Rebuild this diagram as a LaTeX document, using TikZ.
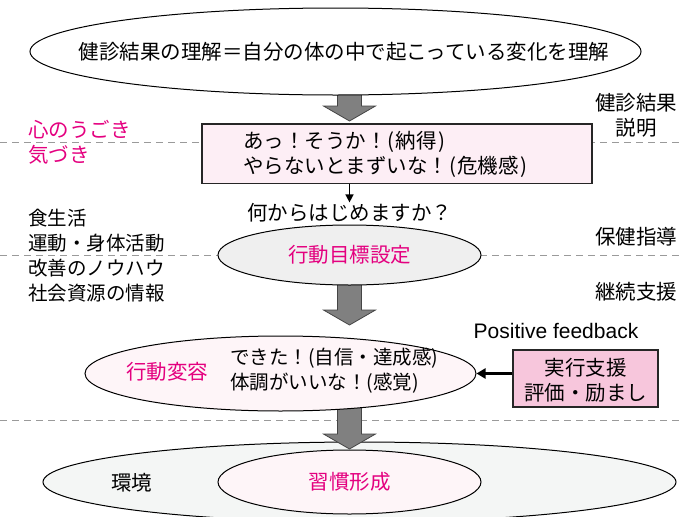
\documentclass[tikz,border=0pt]{standalone}
\usepackage{fontspec}
\setmainfont{Noto Sans CJK JP}
\newfontfamily\latfont{Liberation Sans}
\usetikzlibrary{shapes.geometric,arrows.meta,calc}
\definecolor{pinktext}{HTML}{E4007F}
\definecolor{boxpink}{HTML}{FDEEF5}
\definecolor{boxpinkdark}{HTML}{F7C6DC}
\definecolor{ellgray}{HTML}{EFEFEF}
\definecolor{ellpink}{HTML}{FEF5F8}
\definecolor{envgray}{HTML}{F4F6F5}
\definecolor{arrowgray}{HTML}{808080}
\definecolor{arrowedge}{HTML}{454545}
\definecolor{dashgray}{HTML}{9A9A9A}
\pgfdeclarelayer{bg}
\pgfdeclarelayer{mid}
\pgfsetlayers{bg,mid,main}
\newcommand\hpar[1]{\makebox[0.45em]{#1}}
\newcommand\blockarrow[2]{%
  \path[blockarr] let \p1=(#1), \p2=(#2) in
    (\x1-12pt,\y1) -- (\x1+12pt,\y1) -- (\x1+12pt,\y2+15pt) -- (\x1+26pt,\y2+15pt)
    -- (\x1,\y2) -- (\x1-26pt,\y2+15pt) -- (\x1-12pt,\y2+15pt) -- cycle;}
\begin{document}
\begin{tikzpicture}[x=1pt,y=-1pt,
  jp/.style={font=\fontsize{20.5}{25}\selectfont, inner sep=0pt},
  jpsmall/.style={font=\fontsize{19.5}{25}\selectfont, inner sep=0pt},
  ell/.style={draw=black, line width=1pt, ellipse, inner sep=0pt},
  rectbox/.style={draw=black!85, line width=1.2pt, rectangle, inner sep=0pt},
  dashline/.style={draw=dashgray, line width=1pt, dash pattern=on 7pt off 5pt},
  blockarr/.style={fill=arrowgray, draw=arrowedge, line width=0.8pt},
  pinklabel/.style={text=pinktext}]
\useasboundingbox (0,0) rectangle (681,517);

% background: dashed guides and environment ellipses
\begin{pgfonlayer}{bg}
  \draw[dashline] (0,142) -- (681,142);
  \draw[dashline] (0,255) -- (681,255);
  \draw[dashline] (0,420) -- (681,420);
  \node[ell, fill=envgray, minimum width=633pt, minimum height=80pt] (eo) at (359.5,482) {};
  \node[ell, fill=ellpink, minimum width=263pt, minimum height=64pt] (ei) at (349.5,482) {};
\end{pgfonlayer}

% main shapes
\node[ell, fill=white, minimum width=611pt, minimum height=87pt] (e1) at (335.5,51.5) {};
\node[jp] (t1txt) at (344,51.5) {健診結果の理解＝自分の体の中で起こっている変化を理解};

\node[rectbox, fill=boxpink, minimum width=390pt, minimum height=59.5pt] (box1) at (397,153.75) {};
\node[jp, anchor=west, align=left] (box1txt) at (243,154.2) {あっ！そうか！\hpar{(}納得\hpar{)}\\やらないとまずいな！\hpar{(}危機感\hpar{)}};

\node[ell, fill=ellgray, minimum width=263pt, minimum height=60pt] (e2) at (349.5,255) {};
\node[jp, pinklabel] (e2txt) at (349.5,255) {行動目標設定};

\node[ell, fill=ellpink, minimum width=391pt, minimum height=75pt] (e3) at (280.5,373.5) {};
\node[jp, pinklabel] (e3lab) at (167,372) {行動変容};
\node[jpsmall, anchor=west, align=left] (e3txt) at (230,370.5) {できた！(自信・達成感)\\体調がいいな！(感覚)};

\node[rectbox, fill=boxpinkdark, minimum width=145pt, minimum height=57pt] (box2) at (585.5,378.5) {};
\node[jp, align=center] (box2txt) at (585.5,380) {実行支援\\評価・励まし};

% labels
\node[jp, pinklabel, anchor=west, align=left] (kokoro) at (28,142.5) {心のうごき\\気づき};
\node[jpsmall, anchor=west, align=left] (list) at (28,255.5) {食生活\\運動・身体活動\\改善のノウハウ\\社会資源の情報};
\node[jp, align=center] (setsumei) at (636,115) {健診結果\\説明};
\node[jp] (hoken) at (636,237) {保健指導};
\node[jp] (keizoku) at (636,292) {継続支援};
\node[jp] (q) at (349.5,213) {何からはじめますか？};
\node[inner sep=0pt, font=\latfont\fontsize{21}{25}\selectfont] (pf) at (556,331) {Positive feedback};
\node[jp] (kankyo) at (131.7,483) {環境};
\node[jp, pinklabel] (shukan) at (349.5,482) {習慣形成};

% arrow tips
\coordinate (tip1) at (349.5,121);
\coordinate (tip2) at (349.5,325);
\coordinate (tip3) at (349.5,449);

\begin{pgfonlayer}{mid}
  \blockarrow{$(e1.south -| e2.center)+(0,-6)$}{tip1}
  \blockarrow{$(e2.south)+(0,-6)$}{tip2}
  \blockarrow{$(e3.south -| e2.center)+(0,-10)$}{tip3}
\end{pgfonlayer}

\draw[line width=1.5pt, -{Triangle[width=8pt,length=8pt]}] (box1.south -| q.north) -- ($(q.north)+(0,-1)$);
\draw[line width=2.5pt, -{Triangle[width=10pt,length=9pt]}] (box2.west |- e3.east) -- (e3.east);
\end{tikzpicture}
\end{document}
